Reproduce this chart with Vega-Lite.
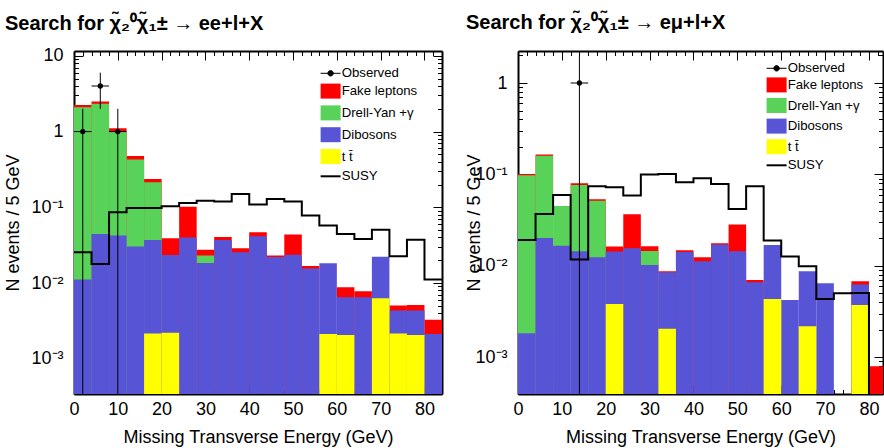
{
  "$schema": "https://vega.github.io/schema/vega-lite/v6.json",
  "padding": {"left": 4, "top": 13, "right": 0, "bottom": 0},
  "background": "white",
  "config": {
    "font": "Liberation Sans",
    "view": {"stroke": null},
    "axis": {
      "domainColor": "black", "domainWidth": 2, "tickColor": "black", "tickWidth": 1,
      "labelColor": "black", "titleColor": "black", "grid": false,
      "labelFont": "Liberation Sans", "titleFont": "Liberation Sans",
      "zindex": 1, "labelOverlap": false, "labelFlush": false, "labelBound": false
    },
    "legend": {"labelFont": "Liberation Sans", "labelColor": "black"}
  },
  "datasets": {
    "left_bars": [
      {"lo":0,"hi":4,"comp":"Fake leptons","top":2.25},
      {"lo":4,"hi":8,"comp":"Fake leptons","top":2.49},
      {"lo":8,"hi":12,"comp":"Fake leptons","top":1.105},
      {"lo":12,"hi":16,"comp":"Fake leptons","top":0.476},
      {"lo":16,"hi":20,"comp":"Fake leptons","top":0.236},
      {"lo":20,"hi":24,"comp":"Fake leptons","top":0.039},
      {"lo":24,"hi":28,"comp":"Fake leptons","top":0.102},
      {"lo":28,"hi":32,"comp":"Fake leptons","top":0.0276},
      {"lo":32,"hi":36,"comp":"Fake leptons","top":0.0405},
      {"lo":36,"hi":40,"comp":"Fake leptons","top":0.0287},
      {"lo":40,"hi":44,"comp":"Fake leptons","top":0.0468},
      {"lo":44,"hi":48,"comp":"Fake leptons","top":0.023},
      {"lo":48,"hi":52,"comp":"Fake leptons","top":0.0436},
      {"lo":52,"hi":56,"comp":"Fake leptons","top":0.0168},
      {"lo":60,"hi":64,"comp":"Fake leptons","top":0.00877},
      {"lo":64,"hi":68,"comp":"Fake leptons","top":0.00777},
      {"lo":72,"hi":76,"comp":"Fake leptons","top":0.00503},
      {"lo":76,"hi":80,"comp":"Fake leptons","top":0.00512},
      {"lo":80,"hi":84,"comp":"Fake leptons","top":0.00328},
      {"lo":0,"hi":4,"comp":"Drell-Yan +γ","top":2.09},
      {"lo":4,"hi":8,"comp":"Drell-Yan +γ","top":2.34},
      {"lo":8,"hi":12,"comp":"Drell-Yan +γ","top":1.02},
      {"lo":12,"hi":16,"comp":"Drell-Yan +γ","top":0.427},
      {"lo":16,"hi":20,"comp":"Drell-Yan +γ","top":0.214},
      {"lo":28,"hi":32,"comp":"Drell-Yan +γ","top":0.023},
      {"lo":0,"hi":4,"comp":"Dibosons","top":0.0111},
      {"lo":4,"hi":8,"comp":"Dibosons","top":0.0444},
      {"lo":8,"hi":12,"comp":"Dibosons","top":0.0423},
      {"lo":12,"hi":16,"comp":"Dibosons","top":0.0303},
      {"lo":16,"hi":20,"comp":"Dibosons","top":0.037},
      {"lo":20,"hi":24,"comp":"Dibosons","top":0.0234},
      {"lo":24,"hi":28,"comp":"Dibosons","top":0.040},
      {"lo":28,"hi":32,"comp":"Dibosons","top":0.0184},
      {"lo":32,"hi":36,"comp":"Dibosons","top":0.037},
      {"lo":36,"hi":40,"comp":"Dibosons","top":0.0255},
      {"lo":40,"hi":44,"comp":"Dibosons","top":0.0414},
      {"lo":44,"hi":48,"comp":"Dibosons","top":0.0221},
      {"lo":48,"hi":52,"comp":"Dibosons","top":0.0237},
      {"lo":52,"hi":56,"comp":"Dibosons","top":0.0156},
      {"lo":56,"hi":60,"comp":"Dibosons","top":0.0182},
      {"lo":60,"hi":64,"comp":"Dibosons","top":0.00647},
      {"lo":64,"hi":68,"comp":"Dibosons","top":0.00647},
      {"lo":68,"hi":72,"comp":"Dibosons","top":0.0223},
      {"lo":72,"hi":76,"comp":"Dibosons","top":0.00432},
      {"lo":76,"hi":80,"comp":"Dibosons","top":0.00432},
      {"lo":80,"hi":84,"comp":"Dibosons","top":0.00212},
      {"lo":16,"hi":20,"comp":"t t̄","top":0.00216},
      {"lo":20,"hi":24,"comp":"t t̄","top":0.00221},
      {"lo":56,"hi":60,"comp":"t t̄","top":0.00212},
      {"lo":60,"hi":64,"comp":"t t̄","top":0.00206},
      {"lo":68,"hi":72,"comp":"t t̄","top":0.00628},
      {"lo":72,"hi":76,"comp":"t t̄","top":0.00216},
      {"lo":76,"hi":80,"comp":"t t̄","top":0.00206}
    ],
    "right_bars": [
      {"lo":0,"hi":4,"comp":"Fake leptons","top":0.101},
      {"lo":4,"hi":8,"comp":"Fake leptons","top":0.165},
      {"lo":12,"hi":16,"comp":"Fake leptons","top":0.080},
      {"lo":16,"hi":20,"comp":"Fake leptons","top":0.0534},
      {"lo":20,"hi":24,"comp":"Fake leptons","top":0.0162},
      {"lo":24,"hi":28,"comp":"Fake leptons","top":0.0366},
      {"lo":28,"hi":32,"comp":"Fake leptons","top":0.0163},
      {"lo":32,"hi":36,"comp":"Fake leptons","top":0.0087},
      {"lo":36,"hi":40,"comp":"Fake leptons","top":0.0148},
      {"lo":40,"hi":44,"comp":"Fake leptons","top":0.0124},
      {"lo":44,"hi":48,"comp":"Fake leptons","top":0.0176},
      {"lo":48,"hi":52,"comp":"Fake leptons","top":0.0282},
      {"lo":52,"hi":56,"comp":"Fake leptons","top":0.0070},
      {"lo":76,"hi":80,"comp":"Fake leptons","top":0.00677},
      {"lo":80,"hi":84,"comp":"Fake leptons","top":0.000795},
      {"lo":0,"hi":4,"comp":"Drell-Yan +γ","top":0.098},
      {"lo":4,"hi":8,"comp":"Drell-Yan +γ","top":0.160},
      {"lo":8,"hi":12,"comp":"Drell-Yan +γ","top":0.045},
      {"lo":12,"hi":16,"comp":"Drell-Yan +γ","top":0.0766},
      {"lo":16,"hi":20,"comp":"Drell-Yan +γ","top":0.0513},
      {"lo":28,"hi":32,"comp":"Drell-Yan +γ","top":0.0145},
      {"lo":0,"hi":4,"comp":"Dibosons","top":0.00183},
      {"lo":4,"hi":8,"comp":"Dibosons","top":0.0201},
      {"lo":8,"hi":12,"comp":"Dibosons","top":0.0166},
      {"lo":12,"hi":16,"comp":"Dibosons","top":0.0144},
      {"lo":16,"hi":20,"comp":"Dibosons","top":0.0124},
      {"lo":20,"hi":24,"comp":"Dibosons","top":0.0143},
      {"lo":24,"hi":28,"comp":"Dibosons","top":0.0155},
      {"lo":28,"hi":32,"comp":"Dibosons","top":0.0102},
      {"lo":32,"hi":36,"comp":"Dibosons","top":0.0085},
      {"lo":36,"hi":40,"comp":"Dibosons","top":0.0141},
      {"lo":40,"hi":44,"comp":"Dibosons","top":0.0112},
      {"lo":44,"hi":48,"comp":"Dibosons","top":0.0171},
      {"lo":48,"hi":52,"comp":"Dibosons","top":0.0144},
      {"lo":52,"hi":56,"comp":"Dibosons","top":0.0066},
      {"lo":56,"hi":60,"comp":"Dibosons","top":0.0169},
      {"lo":60,"hi":64,"comp":"Dibosons","top":0.00422},
      {"lo":64,"hi":68,"comp":"Dibosons","top":0.0087},
      {"lo":68,"hi":72,"comp":"Dibosons","top":0.00643},
      {"lo":76,"hi":80,"comp":"Dibosons","top":0.00622},
      {"lo":20,"hi":24,"comp":"t t̄","top":0.00382},
      {"lo":32,"hi":36,"comp":"t t̄","top":0.00204},
      {"lo":56,"hi":60,"comp":"t t̄","top":0.00433},
      {"lo":64,"hi":68,"comp":"t t̄","top":0.00218},
      {"lo":76,"hi":80,"comp":"t t̄","top":0.00372}
    ],
    "left_susy": [
      {"edge":0,"v":0.0254},{"edge":4,"v":0.0178},{"edge":8,"v":0.0859},{"edge":12,"v":0.098},
      {"edge":16,"v":0.098},{"edge":20,"v":0.103},{"edge":24,"v":0.114},{"edge":28,"v":0.1225},
      {"edge":32,"v":0.119},{"edge":36,"v":0.150},{"edge":40,"v":0.109},{"edge":44,"v":0.129},
      {"edge":48,"v":0.119},{"edge":52,"v":0.0777},{"edge":56,"v":0.0573},{"edge":60,"v":0.0444},
      {"edge":64,"v":0.0381},{"edge":68,"v":0.0507},{"edge":72,"v":0.0225},{"edge":76,"v":0.0374},
      {"edge":80,"v":0.0111},{"edge":84,"v":0.0111}
    ],
    "right_susy": [
      {"edge":0,"v":0.0191},{"edge":4,"v":0.0369},{"edge":8,"v":0.0595},{"edge":12,"v":0.0117},
      {"edge":16,"v":0.0741},{"edge":20,"v":0.0722},{"edge":24,"v":0.0586},{"edge":28,"v":0.0995},
      {"edge":32,"v":0.101},{"edge":36,"v":0.082},{"edge":40,"v":0.0906},{"edge":44,"v":0.0785},
      {"edge":48,"v":0.0418},{"edge":52,"v":0.0741},{"edge":56,"v":0.0189},{"edge":60,"v":0.0126},
      {"edge":64,"v":0.0099},{"edge":68,"v":0.00433},{"edge":72,"v":0.0050},{"edge":76,"v":0.00503},
      {"edge":80,"v":0.000001},{"edge":84,"v":0.000001}
    ],
    "left_obs": [
      {"x":2,"xlo":0,"xhi":4,"n":1,"elo":0.000001,"ehi":2},
      {"x":6,"xlo":4,"xhi":8,"n":4,"elo":2,"ehi":6},
      {"x":10,"xlo":8,"xhi":12,"n":1,"elo":0.000001,"ehi":2}
    ],
    "right_obs": [
      {"x":14,"xlo":12,"xhi":16,"n":1,"elo":0.000001,"ehi":2}
    ]
  },
  "spacing": 22,
  "resolve": {"legend": {"color": "independent"}},
  "hconcat": [
    {
      "width": 368, "height": 343,
      "title": {"text": "Search for χ̃₂⁰χ̃₁± → ee+l+X", "anchor": "start", "offset": -3, "baseline": "alphabetic", "fontSize": 20, "fontWeight": "bold", "font": "Liberation Sans", "color": "black"},
      "resolve": {"axis": {"x": "independent", "y": "independent"}},
      "layer": [
        {
          "data": {"name": "left_bars"},
          "mark": {"type": "bar", "clip": true},
          "encoding": {
            "x": {"field": "lo", "type": "quantitative", "scale": {"domain": [0, 84], "nice": false, "zero": false},
              "axis": {"orient": "bottom", "values": [0,2,4,6,8,10,12,14,16,18,20,22,24,26,28,30,32,34,36,38,40,42,44,46,48,50,52,54,56,58,60,62,64,66,68,70,72,74,76,78,80,82,84],
                "labelExpr": "datum.value % 10 === 0 ? datum.label : ''", "format": "d",
                "tickSize": {"condition": {"test": "datum.value % 10 === 0", "value": -9}, "value": -4.5},
                "labelPadding": 15, "labelFontSize": 18,
                "title": "Missing Transverse Energy (GeV)", "titleFontSize": 18, "titleFontWeight": "normal", "titlePadding": 6}},
            "x2": {"field": "hi"},
            "y": {"field": "top", "type": "quantitative", "stack": null, "scale": {"type": "log", "domain": [0.000342, 11.6], "nice": false},
              "axis": {"orient": "left", "values": [0.0004,0.0005,0.0006,0.0007,0.0008,0.0009,0.001,0.002,0.003,0.004,0.005,0.006,0.007,0.008,0.009,0.01,0.02,0.03,0.04,0.05,0.06,0.07,0.08,0.09,0.1,0.2,0.3,0.4,0.5,0.6,0.7,0.8,0.9,1,2,3,4,5,6,7,8,9,10],
                "labelExpr": "datum.value === 10 ? '10' : datum.value === 1 ? '1' : datum.value === 0.1 ? '10⁻¹' : datum.value === 0.01 ? '10⁻²' : datum.value === 0.001 ? '10⁻³' : ''",
                "tickSize": {"condition": {"test": "datum.value === 10 || datum.value === 1 || datum.value === 0.1 || datum.value === 0.01 || datum.value === 0.001", "value": -9}, "value": -4.5},
                "labelPadding": 20, "labelFontSize": 18,
                "title": "N events / 5 GeV", "titleFontSize": 18, "titleFontWeight": "normal", "titlePadding": 8}},
            "y2": {"datum": 0.0001},
            "color": {"field": "comp", "type": "nominal",
              "scale": {"domain": ["Observed", "Fake leptons", "Drell-Yan +γ", "Dibosons", "t t̄", "SUSY"], "range": ["#000000", "#ff0000", "#58d258", "#5754d6", "#ffff00", "#000000"]},
              "legend": {"orient": "none", "legendX": 250, "legendY": 15.7, "title": null, "labelFontSize": 13.2, "labelOffset": 4.5, "symbolSize": 400, "rowPadding": 1.8,
                "encode": {"symbols": {"update": {
                  "shape": {"signal": "datum.value === 'Observed' ? 'M-1,0H1M-0.27,0A0.27,0.27 0 1,1 0.27,0A0.27,0.27 0 1,1 -0.27,0Z' : datum.value === 'SUSY' ? 'M-1,0H1' : 'M-1,-0.75H1V0.75H-1Z'"},
                  "fill": {"signal": "datum.value === 'SUSY' ? 'transparent' : datum.value === 'Observed' ? '#000000' : datum.value === 'Fake leptons' ? '#ff0000' : datum.value === 'Dibosons' ? '#5754d6' : datum.value === 'Drell-Yan +γ' ? '#58d258' : '#ffff00'"},
                  "stroke": {"signal": "datum.value === 'SUSY' || datum.value === 'Observed' ? '#000000' : 'transparent'"},
                  "strokeWidth": {"signal": "datum.value === 'SUSY' ? 2 : 1"},
                  "opacity": {"value": 1}
                }}}}}
          }
        },
        {
          "data": {"name": "left_susy"},
          "mark": {"type": "line", "interpolate": "step-after", "color": "black", "strokeWidth": 2, "clip": true},
          "encoding": {
            "x": {"field": "edge", "type": "quantitative",
              "axis": {"orient": "top", "values": [0,2,4,6,8,10,12,14,16,18,20,22,24,26,28,30,32,34,36,38,40,42,44,46,48,50,52,54,56,58,60,62,64,66,68,70,72,74,76,78,80,82,84],
                "labels": false, "title": null,
                "tickSize": {"condition": {"test": "datum.value % 10 === 0", "value": -9}, "value": -4.5}}},
            "y": {"field": "v", "type": "quantitative",
              "axis": {"orient": "right", "values": [0.0004,0.0005,0.0006,0.0007,0.0008,0.0009,0.001,0.002,0.003,0.004,0.005,0.006,0.007,0.008,0.009,0.01,0.02,0.03,0.04,0.05,0.06,0.07,0.08,0.09,0.1,0.2,0.3,0.4,0.5,0.6,0.7,0.8,0.9,1,2,3,4,5,6,7,8,9,10],
                "labels": false, "title": null,
                "tickSize": {"condition": {"test": "datum.value === 10 || datum.value === 1 || datum.value === 0.1 || datum.value === 0.01 || datum.value === 0.001", "value": -9}, "value": -4.5}}}
          }
        },
        {
          "data": {"name": "left_obs"},
          "mark": {"type": "rule", "color": "black", "strokeWidth": 1, "clip": true},
          "encoding": {
            "x": {"field": "x", "type": "quantitative", "axis": null},
            "y": {"field": "elo", "type": "quantitative", "axis": null},
            "y2": {"field": "ehi"}
          }
        },
        {
          "data": {"name": "left_obs"},
          "mark": {"type": "rule", "color": "black", "strokeWidth": 1, "clip": true},
          "encoding": {
            "x": {"field": "xlo", "type": "quantitative", "axis": null},
            "x2": {"field": "xhi"},
            "y": {"field": "n", "type": "quantitative", "axis": null}
          }
        },
        {
          "data": {"name": "left_obs"},
          "mark": {"type": "point", "filled": true, "color": "black", "size": 28, "opacity": 1, "clip": true},
          "encoding": {
            "x": {"field": "x", "type": "quantitative", "axis": null},
            "y": {"field": "n", "type": "quantitative", "axis": null}
          }
        }
      ]
    },
    {
      "width": 365, "height": 343,
      "title": {"text": "Search for χ̃₂⁰χ̃₁± → eμ+l+X", "anchor": "start", "offset": -3, "baseline": "alphabetic", "fontSize": 20, "fontWeight": "bold", "font": "Liberation Sans", "color": "black"},
      "resolve": {"axis": {"x": "independent", "y": "independent"}},
      "layer": [
        {
          "data": {"name": "right_bars"},
          "mark": {"type": "bar", "clip": true},
          "encoding": {
            "x": {"field": "lo", "type": "quantitative", "scale": {"domain": [0, 83.2], "nice": false, "zero": false},
              "axis": {"orient": "bottom", "values": [0,2,4,6,8,10,12,14,16,18,20,22,24,26,28,30,32,34,36,38,40,42,44,46,48,50,52,54,56,58,60,62,64,66,68,70,72,74,76,78,80,82],
                "labelExpr": "datum.value % 10 === 0 ? datum.label : ''", "format": "d",
                "tickSize": {"condition": {"test": "datum.value % 10 === 0", "value": -9}, "value": -4.5},
                "labelPadding": 15, "labelFontSize": 18,
                "title": "Missing Transverse Energy (GeV)", "titleFontSize": 18, "titleFontWeight": "normal", "titlePadding": 6}},
            "x2": {"field": "hi"},
            "y": {"field": "top", "type": "quantitative", "stack": null, "scale": {"type": "log", "domain": [0.000395, 2.24], "nice": false},
              "axis": {"orient": "left", "values": [0.0004,0.0005,0.0006,0.0007,0.0008,0.0009,0.001,0.002,0.003,0.004,0.005,0.006,0.007,0.008,0.009,0.01,0.02,0.03,0.04,0.05,0.06,0.07,0.08,0.09,0.1,0.2,0.3,0.4,0.5,0.6,0.7,0.8,0.9,1,2],
                "labelExpr": "datum.value === 10 ? '10' : datum.value === 1 ? '1' : datum.value === 0.1 ? '10⁻¹' : datum.value === 0.01 ? '10⁻²' : datum.value === 0.001 ? '10⁻³' : ''",
                "tickSize": {"condition": {"test": "datum.value === 10 || datum.value === 1 || datum.value === 0.1 || datum.value === 0.01 || datum.value === 0.001", "value": -9}, "value": -4.5},
                "labelPadding": 20, "labelFontSize": 18,
                "title": "N events / 5 GeV", "titleFontSize": 18, "titleFontWeight": "normal", "titlePadding": -9}},
            "y2": {"datum": 0.0001},
            "color": {"field": "comp", "type": "nominal",
              "scale": {"domain": ["Observed", "Fake leptons", "Drell-Yan +γ", "Dibosons", "t t̄", "SUSY"], "range": ["#000000", "#ff0000", "#58d258", "#5754d6", "#ffff00", "#000000"]},
              "legend": {"orient": "none", "legendX": 252, "legendY": 10.7, "title": null, "labelFontSize": 13.2, "labelOffset": 4.5, "symbolSize": 400, "rowPadding": 0.6,
                "encode": {"symbols": {"update": {
                  "shape": {"signal": "datum.value === 'Observed' ? 'M-1,0H1M-0.27,0A0.27,0.27 0 1,1 0.27,0A0.27,0.27 0 1,1 -0.27,0Z' : datum.value === 'SUSY' ? 'M-1,0H1' : 'M-1,-0.75H1V0.75H-1Z'"},
                  "fill": {"signal": "datum.value === 'SUSY' ? 'transparent' : datum.value === 'Observed' ? '#000000' : datum.value === 'Fake leptons' ? '#ff0000' : datum.value === 'Dibosons' ? '#5754d6' : datum.value === 'Drell-Yan +γ' ? '#58d258' : '#ffff00'"},
                  "stroke": {"signal": "datum.value === 'SUSY' || datum.value === 'Observed' ? '#000000' : 'transparent'"},
                  "strokeWidth": {"signal": "datum.value === 'SUSY' ? 2 : 1"},
                  "opacity": {"value": 1}
                }}}}}
          }
        },
        {
          "data": {"name": "right_susy"},
          "mark": {"type": "line", "interpolate": "step-after", "color": "black", "strokeWidth": 2, "clip": true},
          "encoding": {
            "x": {"field": "edge", "type": "quantitative",
              "axis": {"orient": "top", "values": [0,2,4,6,8,10,12,14,16,18,20,22,24,26,28,30,32,34,36,38,40,42,44,46,48,50,52,54,56,58,60,62,64,66,68,70,72,74,76,78,80,82],
                "labels": false, "title": null,
                "tickSize": {"condition": {"test": "datum.value % 10 === 0", "value": -9}, "value": -4.5}}},
            "y": {"field": "v", "type": "quantitative",
              "axis": {"orient": "right", "values": [0.0004,0.0005,0.0006,0.0007,0.0008,0.0009,0.001,0.002,0.003,0.004,0.005,0.006,0.007,0.008,0.009,0.01,0.02,0.03,0.04,0.05,0.06,0.07,0.08,0.09,0.1,0.2,0.3,0.4,0.5,0.6,0.7,0.8,0.9,1,2],
                "labels": false, "title": null,
                "tickSize": {"condition": {"test": "datum.value === 10 || datum.value === 1 || datum.value === 0.1 || datum.value === 0.01 || datum.value === 0.001", "value": -9}, "value": -4.5}}}
          }
        },
        {
          "data": {"name": "right_obs"},
          "mark": {"type": "rule", "color": "black", "strokeWidth": 1, "clip": true},
          "encoding": {
            "x": {"field": "x", "type": "quantitative", "axis": null},
            "y": {"field": "elo", "type": "quantitative", "axis": null},
            "y2": {"field": "ehi"}
          }
        },
        {
          "data": {"name": "right_obs"},
          "mark": {"type": "rule", "color": "black", "strokeWidth": 1, "clip": true},
          "encoding": {
            "x": {"field": "xlo", "type": "quantitative", "axis": null},
            "x2": {"field": "xhi"},
            "y": {"field": "n", "type": "quantitative", "axis": null}
          }
        },
        {
          "data": {"name": "right_obs"},
          "mark": {"type": "point", "filled": true, "color": "black", "size": 28, "opacity": 1, "clip": true},
          "encoding": {
            "x": {"field": "x", "type": "quantitative", "axis": null},
            "y": {"field": "n", "type": "quantitative", "axis": null}
          }
        }
      ]
    }
  ]
}
